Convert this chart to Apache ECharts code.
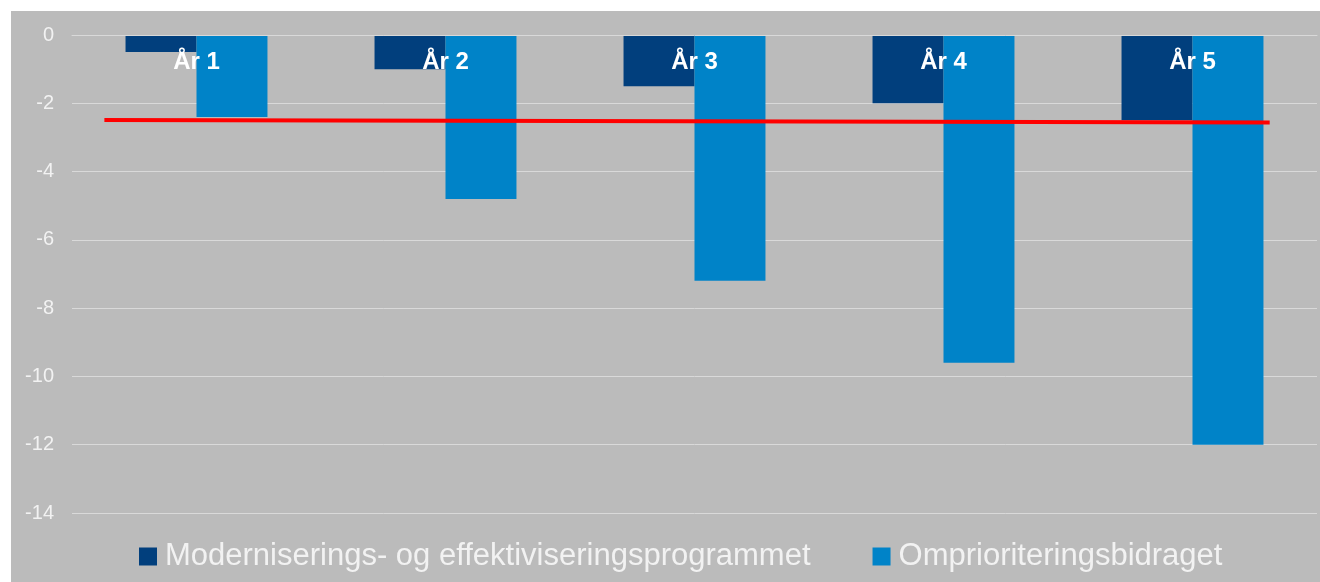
<!DOCTYPE html>
<html>
<head>
	<meta charset="utf-8">
	<title>Omprioriteringsbidraget</title>
	<script src="https://cdn.jsdelivr.net/npm/echarts@6/dist/echarts.min.js"></script>
	<style>
		html, body { margin: 0; padding: 0; background: #fff; }
		#main { position: absolute; left: 11px; top: 11px; width: 1309px; height: 571px; background: #bbbbbb; }
	</style>
</head>
<body>
	<div id="main"></div>
	<script type="text/javascript">
		// kategorier og verdier
		var aar = ['År 1', 'År 2', 'År 3', 'År 4', 'År 5'];
		var modernisering = [-0.5, -1, -1.5, -2, -2.5];
		var omprioritering = [-2.4, -4.8, -7.2, -9.6, -12];
		// rød linje (x i kategorienheter, y-verdi)
		var rodLinje = [[0.13, -2.49], [4.81, -2.56]];
		var yTicks = { min: -14, max: 0, interval: 2 };

		var chart = echarts.init(document.getElementById('main'));
		var option = {
			backgroundColor: '#bbbbbb',
			animation: false,
			grid: { left: 61, right: 3, top: 24, bottom: 69 },
			legend: {
				bottom: 5,
				left: 123,
				itemWidth: 18,
				itemHeight: 18,
				itemGap: 62,
				icon: 'rect',
				textStyle: { color: '#f2f2f2', fontSize: 31, fontFamily: 'Liberation Sans, Arial', padding: [0, 0, 0, 3] },
				data: ['Moderniserings- og effektiviseringsprogrammet', 'Omprioriteringsbidraget']
			},
			xAxis: [{
				type: 'category',
				data: aar,
				position: 'top',
				z: 10,
				axisLine: { lineStyle: { color: '#d9d9d9' } },
				axisTick: { show: false },
				axisLabel: {
					inside: true,
					margin: 15,
					color: '#ffffff',
					fontWeight: 'bold',
					fontSize: 24,
					fontFamily: 'Liberation Sans, Arial'
				}
			}, {
				type: 'value',
				min: 0,
				max: 5,
				show: false
			}],
			yAxis: {
				type: 'value',
				min: yTicks.min,
				max: yTicks.max,
				interval: yTicks.interval,
				axisLine: { show: false },
				axisTick: { show: false },
				axisLabel: { color: '#f2f2f2', fontSize: 20, margin: 18, fontFamily: 'Liberation Sans, Arial' },
				splitLine: { lineStyle: { color: '#d9d9d9', width: 1 } }
			},
			series: [{
				name: 'Moderniserings- og effektiviseringsprogrammet',
				type: 'bar',
				data: modernisering,
				barGap: 0,
				barCategoryGap: '43%',
				itemStyle: { color: '#013f7d' }
			}, {
				name: 'Omprioriteringsbidraget',
				type: 'bar',
				data: omprioritering,
				itemStyle: { color: '#0083c8' }
			}, {
				name: 'linje',
				type: 'line',
				xAxisIndex: 1,
				data: rodLinje,
				symbol: 'none',
				z: 5,
				lineStyle: { color: '#ff0000', width: 4 }
			}]
		};
		chart.setOption(option);
	</script>
</body>
</html>
